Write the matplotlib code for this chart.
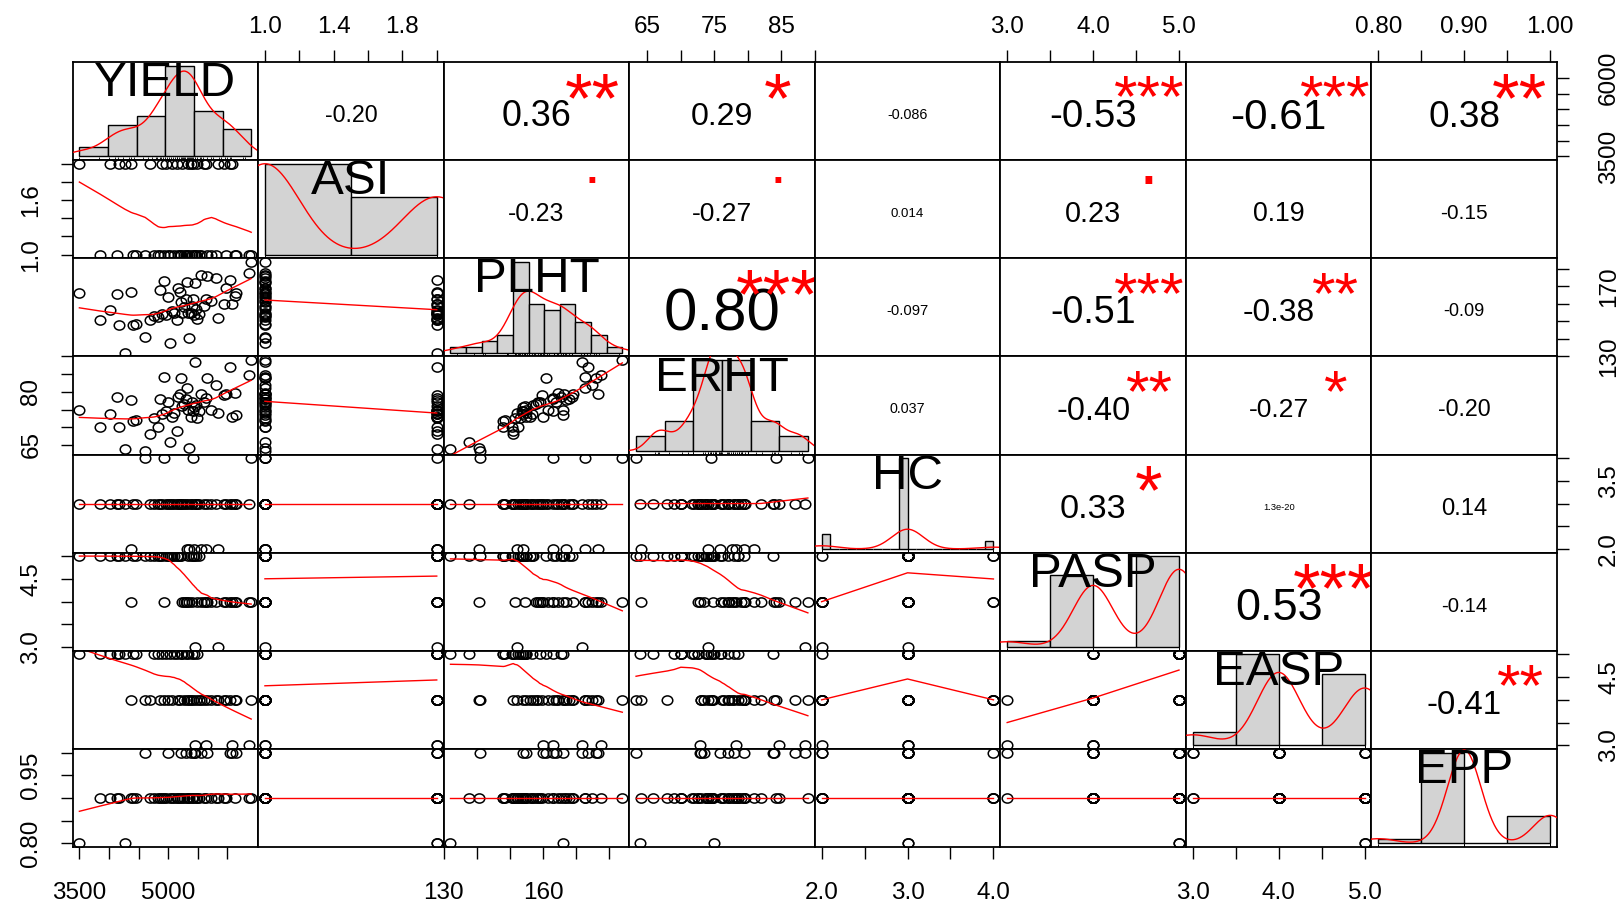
import numpy as np
import matplotlib
matplotlib.use('Agg')
import matplotlib.pyplot as plt
from matplotlib.path import Path
from matplotlib.textpath import TextPath
from matplotlib.font_manager import FontProperties
from matplotlib.transforms import offset_copy

plt.rcParams['font.family'] = ['Liberation Sans', 'DejaVu Sans']

# ================= 1. data (54 plots) =================
var_names = ['YIELD', 'ASI', 'PLHT', 'ERHT', 'HC', 'PASP', 'EASP', 'EPP']

yield_kg = [3500, 3850, 4020, 4130, 4170, 4270, 4370, 4410, 4460, 4610,
            4700, 4760, 4830, 4860, 4900, 4930, 4960, 5000, 5030, 5070,
            5100, 5140, 5170, 5200, 5210, 5240, 5270, 5300, 5310, 5330,
            5350, 5380, 5400, 5420, 5440, 5450, 5470, 5490, 5520, 5560,
            5600, 5630, 5660, 5730, 5800, 5840, 5940, 5980, 6050, 6080,
            6130, 6150, 6360, 6400]
asi = [2, 1, 2, 1, 2, 2, 2, 1, 1, 1,
       2, 1, 1, 1, 2, 1, 2, 1, 1, 2,
       1, 2, 1, 1, 1, 2, 1, 1, 1, 2,
       1, 2, 1, 2, 1, 1, 1, 2, 1, 1,
       2, 2, 1, 1, 1, 2, 2, 1, 2, 2,
       1, 1, 1, 1]
plht = [166, 150.6, 156.6, 165.5, 148, 132, 167, 148, 148.5, 141,
        150.8, 153, 152.3, 167.8, 154, 172.8, 153.5, 164, 137.6, 156,
        155, 151, 168.8, 166.5, 161, 154.5, 158, 163, 172.7, 155,
        140.5, 155, 159, 163, 153.8, 171.8, 157, 151.5, 154, 176.6,
        158.5, 163, 176, 161.5, 174.7, 152, 159.7, 169, 173.7, 160,
        164.5, 166, 177.6, 184]
erht = [75, 70, 73.8, 78.5, 70, 63.9, 77.6, 71.7, 72, 63.3,
        68, 72.6, 70, 78, 73.8, 84.2, 74.5, 77, 65.8, 73,
        74, 69, 78.5, 79.5, 83.8, 76, 76.5, 78, 81, 74.8,
        64, 73, 77, 74.5, 75.8, 88.5, 76.2, 72.6, 74.6, 79.5,
        77.2, 78.3, 84, 74.8, 82, 74, 79, 79.5, 87, 72.9,
        79.6, 73.5, 84.7, 89]
hc = [3, 3, 3, 3, 3, 3, 2, 3, 3, 4,
      3, 3, 3, 3, 3, 4, 3, 3, 3, 3,
      3, 3, 3, 3, 3, 3, 3, 3, 2, 3,
      2, 3, 3, 4, 2, 3, 3, 3, 3, 2,
      3, 2, 3, 3, 3, 2, 3, 3, 3, 3,
      3, 3, 3, 4]
pasp = [5, 5, 5, 5, 5, 5, 4, 5, 5, 5,
        5, 5, 5, 5, 5, 4, 5, 5, 5, 5,
        5, 5, 5, 5, 5, 4, 4, 4, 4, 5,
        4, 5, 4, 5, 5, 3, 5, 4, 5, 4,
        4, 4, 4, 4, 4, 3, 4, 4, 4, 4,
        4, 4, 4, 4]
easp = [5, 5, 5, 5, 5, 5, 4, 5, 5, 4,
        4, 5, 5, 4, 5, 4, 5, 4, 5, 4,
        5, 5, 4, 4, 5, 5, 4, 5, 4, 5,
        4, 4, 5, 4, 5, 3, 4, 5, 4, 4,
        4, 3, 4, 4, 4, 4, 4, 4, 4, 3,
        4, 4, 3, 4]
epp = [0.8, 0.9, 0.9, 0.9, 0.9, 0.8, 0.9, 0.9, 0.9, 1.0,
       0.9, 0.9, 0.9, 0.9, 0.9, 0.9, 0.9, 1.0, 0.9, 0.9,
       0.9, 0.9, 0.9, 0.9, 1.0, 0.9, 0.9, 1.0, 0.9, 0.9,
       0.9, 1.0, 0.9, 0.9, 1.0, 1.0, 0.9, 0.9, 0.9, 1.0,
       0.9, 0.9, 1.0, 0.9, 0.9, 0.9, 0.9, 0.9, 1.0, 1.0,
       0.9, 1.0, 0.9, 0.9]

# correlations printed in the upper panels and their significance marks
cor_txt = {(0, 1): '-0.20', (0, 2): '0.36', (0, 3): '0.29', (0, 4): '-0.086',
           (0, 5): '-0.53', (0, 6): '-0.61', (0, 7): '0.38',
           (1, 2): '-0.23', (1, 3): '-0.27', (1, 4): '0.014', (1, 5): '0.23',
           (1, 6): '0.19', (1, 7): '-0.15',
           (2, 3): '0.80', (2, 4): '-0.097', (2, 5): '-0.51', (2, 6): '-0.38',
           (2, 7): '-0.09',
           (3, 4): '0.037', (3, 5): '-0.40', (3, 6): '-0.27', (3, 7): '-0.20',
           (4, 5): '0.33', (4, 6): '1.3e-20', (4, 7): '0.14',
           (5, 6): '0.53', (5, 7): '-0.14',
           (6, 7): '-0.41'}
cor_sig = {(0, 2): '**', (0, 3): '*', (0, 5): '***', (0, 6): '***', (0, 7): '**',
           (1, 2): '.', (1, 3): '.', (1, 5): '.',
           (2, 3): '***', (2, 5): '***', (2, 6): '**',
           (3, 5): '**', (3, 6): '*',
           (4, 5): '*',
           (5, 6): '***',
           (6, 7): '**'}

hist_breaks = {
    'YIELD': [3500, 4000, 4500, 5000, 5500, 6000, 6500],
    'ASI': [1.0, 1.5, 2.0],
    'PLHT': [130, 135, 140, 145, 150, 155, 160, 165, 170, 175, 180, 185],
    'ERHT': [60, 65, 70, 75, 80, 85, 90],
    'HC': [2.0, 2.1, 2.2, 2.3, 2.4, 2.5, 2.6, 2.7, 2.8, 2.9, 3.0,
           3.1, 3.2, 3.3, 3.4, 3.5, 3.6, 3.7, 3.8, 3.9, 4.0],
    'PASP': [3.0, 3.5, 4.0, 4.5, 5.0],
    'EASP': [3.0, 3.5, 4.0, 4.5, 5.0],
    'EPP': [0.80, 0.85, 0.90, 0.95, 1.00],
}

tick_txt = {
    'YIELD': ['3500', '4000', '4500', '5000', '5500', '6000'],
    'ASI': ['1.0', '1.2', '1.4', '1.6', '1.8', '2.0'],
    'PLHT': ['130', '140', '150', '160', '170', '180'],
    'ERHT': ['65', '70', '75', '80', '85', '90'],
    'HC': ['2.0', '2.5', '3.0', '3.5', '4.0'],
    'PASP': ['3.0', '3.5', '4.0', '4.5', '5.0'],
    'EASP': ['3.0', '3.5', '4.0', '4.5', '5.0'],
    'EPP': ['0.80', '0.85', '0.90', '0.95', '1.00'],
}
top_labels = {'ASI': ['1.0', '1.4', '1.8'], 'ERHT': ['65', '75', '85'],
              'PASP': ['3.0', '4.0', '5.0'], 'EPP': ['0.80', '0.90', '1.00']}
bottom_labels = {'YIELD': ['3500', '5000'], 'PLHT': ['130', '160'],
                 'HC': ['2.0', '3.0', '4.0'], 'EASP': ['3.0', '4.0', '5.0']}
left_labels = {'ASI': ['1.0', '1.6'], 'ERHT': ['65', '80'],
               'PASP': ['3.0', '4.5'], 'EPP': ['0.80', '0.95']}
right_labels = {'YIELD': ['3500', '6000'], 'PLHT': ['130', '170'],
                'HC': ['2.0', '3.5'], 'EASP': ['3.0', '4.5']}

data = dict(zip(var_names, [yield_kg, asi, plht, erht, hc, pasp, easp, epp]))

# ================= 2. helpers =================
def ext_lim(lo, hi):
    d = 0.04 * (hi - lo)
    return lo - d, hi + d


def lowess(x, y, f=2 / 3, iters=3):
    o = np.argsort(x, kind='stable')
    x = np.asarray(x, float)[o]
    y = np.asarray(y, float)[o]
    n = len(x)
    ns = max(min(int(f * n + 1e-7), n), 2)
    rw = np.ones(n)
    fit = np.zeros(n)
    xr = x[-1] - x[0]
    for it in range(iters + 1):
        for i in range(n):
            d = np.abs(x - x[i])
            h = np.sort(d)[ns - 1]
            if h > 0:
                q = d / h
                w = np.where(q < 0.999, (1 - q ** 3) ** 3, 0.0)
                w[d <= 0.001 * h] = 1.0
            else:
                w = (d == 0).astype(float)
            w = w * rw
            if w.sum() <= 0:
                fit[i] = y[i]
                continue
            w = w / w.sum()
            a = (w * x).sum()
            b = (w * (x - a) ** 2).sum()
            if np.sqrt(b) > 0.001 * xr:
                w = w * (1 + (x[i] - a) * (x - a) / b)
            fit[i] = (w * y).sum()
        if it == iters:
            break
        res = np.abs(y - fit)
        cmad = 6 * np.median(res)
        if cmad < 1e-7 * np.mean(np.abs(y)):
            break
        rw = np.where(res <= 0.001 * cmad, 1.0,
                      np.where(res <= 0.999 * cmad, (1 - (res / cmad) ** 2) ** 2, 0.0))
    return x, fit


def density(x, n=512):
    x = np.asarray(x, float)
    sd = x.std(ddof=1)
    q75, q25 = np.percentile(x, [75, 25])
    lo = min(sd, (q75 - q25) / 1.34)
    if lo <= 0:
        lo = sd
    bw = 0.9 * lo * len(x) ** -0.2
    g = np.linspace(x.min() - 3 * bw, x.max() + 3 * bw, n)
    d = np.exp(-0.5 * ((g[:, None] - x[None, :]) / bw) ** 2).sum(1)
    return g, d / (len(x) * bw * np.sqrt(2 * np.pi))


def hist_density(x, breaks):
    x = np.asarray(x, float)
    b = np.asarray(breaks, float)
    idx = np.clip(np.searchsorted(b, x, side='left') - 1, 0, len(b) - 2)
    counts = np.bincount(idx, minlength=len(b) - 1)
    return counts / (len(x) * np.diff(b))


# ================= 3. figure =================
DPI = 100
W_PX, H_PX = 1623, 905
GRID_L, GRID_R, GRID_T, GRID_B = 72.5, 1557, 62, 847
STRETCH = 1.08
n_var = len(var_names)
pw = (GRID_R - GRID_L) / n_var
ph = (GRID_B - GRID_T) / n_var

fig = plt.figure(figsize=(W_PX / DPI, H_PX / DPI), dpi=DPI)
renderer = fig.canvas.get_renderer()
FP = FontProperties(family='Liberation Sans')

circ = Path.unit_circle()
oval = Path(circ.vertices * [1.15, 1.0], circ.codes)


def width_px(s, size):
    t = fig.text(0, 0, s, fontsize=size)
    w = t.get_window_extent(renderer).width
    t.remove()
    return w


def put_text(ax, x, yc, s, size, color='black', z=5):
    # centre the ink of the string vertically on yc
    ext = TextPath((0, 0), s, size=size, prop=FP).get_extents()
    mid = (ext.y0 + ext.y1) / 2
    tr = offset_copy(ax.transAxes, fig=fig, x=0, y=-mid, units='points')
    ax.text(x, yc, s, transform=tr, ha='center', va='baseline',
            fontsize=size, color=color, zorder=z)


lims = {v: ext_lim(min(data[v]), max(data[v])) for v in var_names}
axes = [[None] * n_var for _ in range(n_var)]

for i in range(n_var):
    for j in range(n_var):
        rect = [(GRID_L + j * pw) / W_PX, 1 - (GRID_T + (i + 1) * ph) / H_PX,
                pw / W_PX, ph / H_PX]
        ax = fig.add_axes(rect)
        ax.set_xticks([])
        ax.set_yticks([])
        for sp in ax.spines.values():
            sp.set_linewidth(1.3)
        xv, yv = var_names[j], var_names[i]

        if i > j:
            x, y = data[xv], data[yv]
            ax.plot(x, y, ls='none', marker=oval, ms=7.6, mfc='none',
                    mec='black', mew=1.1)
            lx, ly = lowess(x, y)
            ax.plot(lx, ly, color='red', lw=1.0)
        elif i < j:
            txt = cor_txt[(i, j)]
            full = 100 * 0.8 * pw / width_px(txt, 100)
            r = abs(float(txt))
            put_text(ax, 0.5, 0.47, txt, full * (r + 0.3) / 1.3 / STRETCH)
            sig = cor_sig.get((i, j), '')
            if sig:
                put_text(ax, 0.8, 0.8 if sig == '.' else 0.76, sig,
                         full / STRETCH, color='red')
        else:
            hax = fig.add_axes(rect)
            hax.set_axis_off()
            br = hist_breaks[xv]
            hd = hist_density(data[xv], br)
            hax.bar(br[:-1], hd, width=np.diff(br), align='edge',
                    color='#D3D3D3', edgecolor='black', linewidth=1.0)
            g, d = density(data[xv])
            hax.plot(g, d, color='red', lw=1.0)
            hax.vlines(data[xv], 0, 0.03, transform=hax.get_xaxis_transform(),
                       color='black', lw=0.6)
            hax.set_xlim(*ext_lim(br[0], br[-1]))
            hax.set_ylim(*ext_lim(0, hd.max()))
            put_text(hax, 0.5, 0.825, xv, 35.5, z=10)

        ax.set_xlim(*lims[xv])
        ax.set_ylim(*lims[yv])
        axes[i][j] = ax

# ================= 4. outer axes (alternating sides like pairs()) =================
TICK = dict(length=8.6, width=1.0, labelsize=17.5, color='black')
PAD = {'top': 8.5, 'bottom': 16.5, 'left': 13, 'right': 21}


def draw_axis(ax, side, var, shown):
    vals = [float(s) for s in tick_txt[var]]
    labs = [s if s in shown else '' for s in tick_txt[var]]
    if side in ('top', 'bottom'):
        ax.set_xticks(vals, labs)
        ax.tick_params(axis='x', **{side: True, 'label' + side: True},
                       pad=PAD[side], **TICK)
        ax.set_xlim(*lims[var])
    else:
        ax.set_yticks(vals, labs)
        ax.tick_params(axis='y', **{side: True, 'label' + side: True},
                       pad=PAD[side], labelrotation=90, **TICK)
        for t in ax.get_yticklabels():
            t.set_va('center')
        ax.set_ylim(*lims[var])


for j, v in enumerate(var_names):
    if j % 2 == 1:
        axes[0][j].xaxis.set_ticks_position('top')
        draw_axis(axes[0][j], 'top', v, top_labels[v])
    else:
        draw_axis(axes[n_var - 1][j], 'bottom', v, bottom_labels[v])

for i, v in enumerate(var_names):
    if i % 2 == 1:
        draw_axis(axes[i][0], 'left', v, left_labels[v])
    else:
        axes[i][n_var - 1].yaxis.set_ticks_position('right')
        draw_axis(axes[i][n_var - 1], 'right', v, right_labels[v])

plt.savefig('out.png', dpi=DPI)
